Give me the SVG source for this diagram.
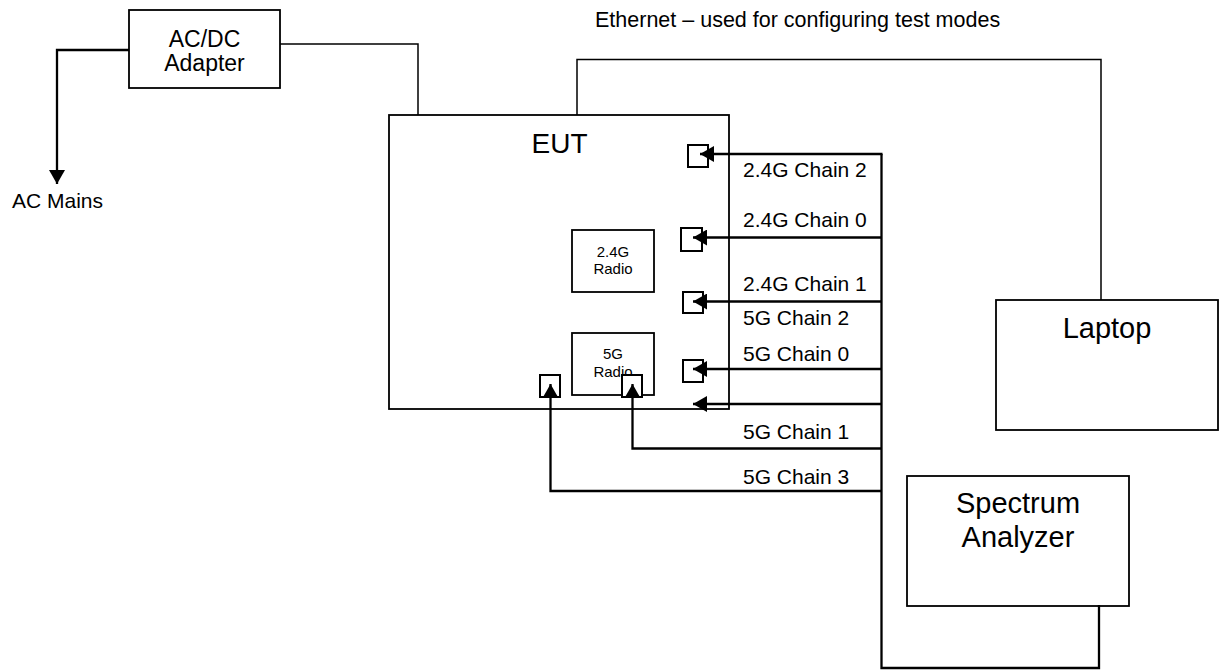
<svg xmlns="http://www.w3.org/2000/svg" width="1221" height="671" viewBox="0 0 1221 671">
<defs>
<style>
.box{fill:#fff;stroke:#000;stroke-width:1.8}
.port{fill:#fff;stroke:#000;stroke-width:2}
.ln{fill:none;stroke:#000;stroke-width:1.5}
.bus{fill:none;stroke:#000;stroke-width:2.3}
.arr{fill:none;stroke:#000;stroke-width:2.3;marker-end:url(#ah)}
text{font-family:"Liberation Sans",Arial,sans-serif;fill:#000}
.c{text-anchor:middle}
.lbl{font-size:21px}
</style>
<marker id="ah" markerUnits="userSpaceOnUse" markerWidth="15" markerHeight="16" refX="14" refY="8" orient="auto">
<path d="M0,0 L14,8 L0,16 z" fill="#000"/>
</marker>
</defs>
<rect width="1221" height="671" fill="#fff"/>

<g id="adapter">
<rect class="box" x="129" y="10" width="151" height="78"/>
<text class="c" x="204.5" y="47" font-size="23">AC/DC</text>
<text class="c" x="204.5" y="71" font-size="23">Adapter</text>
</g>

<g id="eut">
<rect class="box" x="389" y="115" width="340" height="294"/>
<text class="c" x="559.5" y="153" font-size="28">EUT</text>
</g>

<g id="radio24">
<rect class="box" x="572" y="230" width="82" height="62"/>
<text class="c" x="613" y="257" font-size="15">2.4G</text>
<text class="c" x="613" y="274" font-size="15">Radio</text>
</g>

<g id="radio5">
<rect class="box" x="572" y="333" width="82" height="62"/>
<text class="c" x="613" y="359" font-size="15">5G</text>
<text class="c" x="613" y="377" font-size="15">Radio</text>
</g>

<g id="ports">
<rect class="port" x="688" y="145" width="20" height="22"/>
<rect class="port" x="681" y="228" width="21" height="23"/>
<rect class="port" x="683" y="292" width="20" height="21"/>
<rect class="port" x="683" y="360" width="20" height="22"/>
<rect class="port" x="622" y="375" width="20" height="22"/>
<rect class="port" x="540" y="375" width="20" height="22"/>
</g>

<g id="laptop">
<rect class="box" x="996" y="300" width="222" height="130"/>
<text class="c" x="1107" y="338" font-size="29">Laptop</text>
</g>

<g id="spectrum">
<rect class="box" x="907" y="476" width="222" height="130"/>
<text class="c" x="1018" y="513" font-size="29">Spectrum</text>
<text class="c" x="1018" y="547" font-size="29">Analyzer</text>
</g>

<g id="acmains">
<text x="12" y="208" font-size="21">AC Mains</text>
</g>

<g id="connectors">
<path class="ln" d="M280,44 H418 V115"/>
<path class="arr" d="M129,50 H57 V184"/>
<path class="ln" d="M577,115 V59.5 H1101 V300"/>
<path class="bus" d="M881.5,154 V668 H1099 V605"/>
<path class="arr" d="M882.5,154 H700"/>
<path class="arr" d="M881.5,237.5 H693"/>
<path class="arr" d="M881.5,301.5 H693"/>
<path class="arr" d="M881.5,369 H693"/>
<path class="arr" d="M881.5,404 H693"/>
<path class="arr" d="M881.5,448.5 H632.5 V384"/>
<path class="arr" d="M881.5,491 H550.5 V384"/>
</g>

<g id="labels">
<text x="595" y="27" font-size="21.5">Ethernet – used for configuring test modes</text>
<text class="lbl" x="743" y="177">2.4G Chain 2</text>
<text class="lbl" x="743" y="227">2.4G Chain 0</text>
<text class="lbl" x="743" y="291">2.4G Chain 1</text>
<text class="lbl" x="743" y="325">5G Chain 2</text>
<text class="lbl" x="743" y="361">5G Chain 0</text>
<text class="lbl" x="743" y="439">5G Chain 1</text>
<text class="lbl" x="743" y="484">5G Chain 3</text>
</g>
</svg>
